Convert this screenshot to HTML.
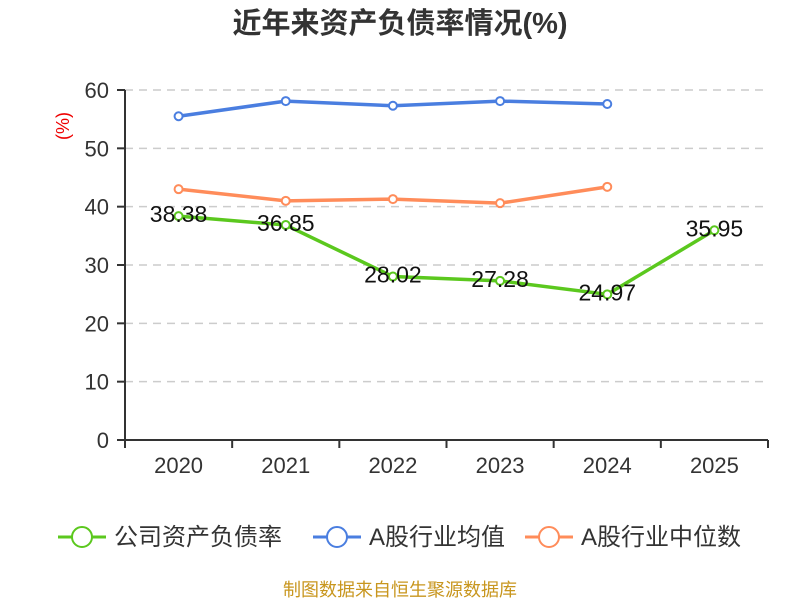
<!DOCTYPE html>
<html><head><meta charset="utf-8"><style>
body{margin:0;background:#fff;width:800px;height:600px;overflow:hidden;font-family:"Liberation Sans","Noto Sans CJK SC",sans-serif}
</style></head><body>
<svg id="c" width="800" height="600" xmlns="http://www.w3.org/2000/svg">
<text x="400" y="33" text-anchor="middle" font-size="29" font-weight="bold" fill="#333">近年来资产负债率情况(%)</text>
<text transform="translate(69,126) rotate(-90)" text-anchor="middle" font-size="18" fill="#e00">(%)</text>
<g id="grid"></g><g id="axes"></g><g id="series"></g>
<g id="legend" fill="#333"></g>
<text x="400" y="596" text-anchor="middle" font-size="18" fill="#c8961e">制图数据来自恒生聚源数据库</text>
</svg>
<script>
const years=["2020","2021","2022","2023","2024","2025"];
const company=[38.38,36.85,28.02,27.28,24.97,35.95];
const industryAvg=[55.5,58.1,57.3,58.1,57.6,null];
const industryMed=[43.0,41.0,41.3,40.6,43.4,null];
const yTicks=[0,10,20,30,40,50,60];
const NS="http://www.w3.org/2000/svg";
const x0=125,x1=768,y0=440,yTop=90;
const bw=(x1-x0)/years.length;
const X=i=>x0+bw*(i+0.5);
const Y=v=>y0-(v/60)*(y0-yTop);
function mk(t,a,p){const e=document.createElementNS(NS,t);for(const k in a)e.setAttribute(k,a[k]);(p||document.getElementById('c')).appendChild(e);return e;}
const grid=document.getElementById('grid'),axes=document.getElementById('axes'),ser=document.getElementById('series'),leg=document.getElementById('legend');
yTicks.forEach(t=>{
 if(t>0){const g=mk('line',{x1:x0,x2:x1,y1:Y(t),y2:Y(t),stroke:'#ccc','stroke-dasharray':'8,6','stroke-width':1.5},grid);
 
 }
 const tk=mk('line',{x1:x0-8,x2:x0,y1:Y(t),y2:Y(t),stroke:'#333','stroke-width':2},axes);
 
 
 const l=mk('text',{x:x0-16,y:Y(t)+8,'text-anchor':'end','font-size':22,fill:'#333'},axes);l.textContent=t;
 
 
});
const ya=mk('line',{x1:x0,x2:x0,y1:yTop,y2:y0,stroke:'#333','stroke-width':2},axes);


const xa=mk('line',{x1:x0,x2:x1,y1:y0,y2:y0,stroke:'#333','stroke-width':2},axes);


for(let i=0;i<=years.length;i++){const t=mk('line',{x1:x0+bw*i,x2:x0+bw*i,y1:y0,y2:y0+8,stroke:'#333','stroke-width':2},axes);
 
 }
years.forEach((y,i)=>{const l=mk('text',{x:X(i),y:473,'text-anchor':'middle','font-size':22,fill:'#333'},axes);l.textContent=y;
 
 });
function series(vals,color,name,labels){
 const pts=vals.map((v,i)=>v==null?null:[X(i),Y(v)]).filter(p=>p);
 const pl=mk('polyline',{points:pts.map(p=>p.join(',')).join(' '),fill:'none',stroke:color,'stroke-width':3.5},ser);
 
 
 vals.forEach((v,i)=>{if(v==null)return;
  const c=mk('circle',{cx:X(i),cy:Y(v),r:4,fill:'#fff',stroke:color,'stroke-width':2},ser);
  
  
  if(labels){const t=mk('text',{x:X(i),y:Y(v)+6,'text-anchor':'middle','font-size':23,fill:'#111'},ser);t.textContent=v.toFixed(2);
   
   }
 });
}
series(industryAvg,'#4a7ee0','industry-average',false);
series(industryMed,'#ff8c5a','industry-median',false);
series(company,'#5bc81e','company',true);
[["公司资产负债率",'#5bc81e',58],["A股行业均值",'#4a7ee0',313],["A股行业中位数",'#ff8c5a',525]].forEach(([n,c,x])=>{
 const g=mk('g',{},leg);
 
 
 mk('line',{x1:x,x2:x+48,y1:537,y2:537,stroke:c,'stroke-width':3},g);
 mk('circle',{cx:x+24,cy:537,r:10,fill:'#fff',stroke:c,'stroke-width':2},g);
 const t=mk('text',{x:x+56,y:545,'font-size':24,fill:'#333'},g);t.textContent=n;
});
</script>
</body></html>
